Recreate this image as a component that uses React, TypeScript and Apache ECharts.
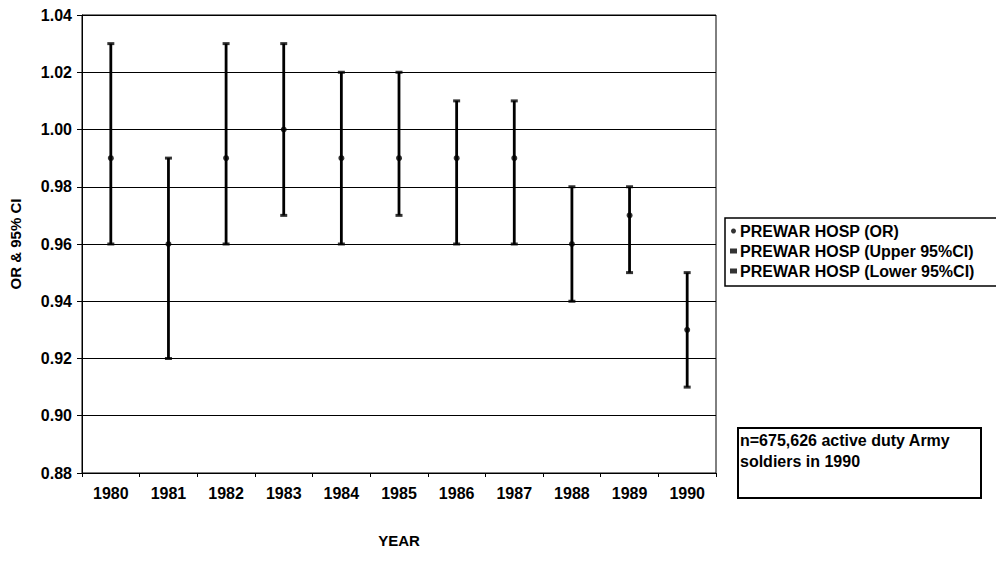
import React, { useEffect, useRef } from "react";
import * as echarts from "echarts";

const years = ["1980", "1981", "1982", "1983", "1984", "1985", "1986", "1987", "1988", "1989", "1990"];
const orValues = [0.99, 0.96, 0.99, 1.0, 0.99, 0.99, 0.99, 0.99, 0.96, 0.97, 0.93];
const upperValues = [1.03, 0.99, 1.03, 1.03, 1.02, 1.02, 1.01, 1.01, 0.98, 0.98, 0.95];
const lowerValues = [0.96, 0.92, 0.96, 0.97, 0.96, 0.97, 0.96, 0.96, 0.94, 0.95, 0.91];

const FONT = "Liberation Sans, Arial, sans-serif";

export default function App() {
  const ref = useRef<HTMLDivElement>(null);
  useEffect(() => {
    if (!ref.current) return;
    const chart = echarts.init(ref.current, null, { renderer: "svg" });
    const errData = years.map((_, i) => [i, lowerValues[i], upperValues[i]]);
    chart.setOption({
      animation: false,
      backgroundColor: "#ffffff",
      textStyle: { fontFamily: FONT },
      grid: { left: 82, right: 280, top: 15, bottom: 89, show: true, borderColor: "#000", borderWidth: 1 },
      legend: {
        orient: "vertical",
        left: 730,
        top: 223,
        itemWidth: 7,
        itemHeight: 5,
        itemGap: 4,
        padding: 0,
        textStyle: { fontFamily: FONT, fontSize: 16, fontWeight: "bold", color: "#000", padding: [0, 0, 0, -2] },
        data: [
          { name: "PREWAR HOSP (OR)", icon: "circle" },
          { name: "PREWAR HOSP (Upper 95%CI)", icon: "rect" },
          { name: "PREWAR HOSP (Lower 95%CI)", icon: "rect" },
        ],
      },
      xAxis: {
        type: "category",
        data: years,
        name: "YEAR",
        nameLocation: "middle",
        nameGap: 60,
        nameTextStyle: { fontFamily: FONT, fontSize: 15, fontWeight: "bold", color: "#000" },
        axisLine: { lineStyle: { color: "#000", width: 1 } },
        axisTick: { show: true, length: 4, lineStyle: { color: "#000" } },
        axisLabel: { fontFamily: FONT, fontSize: 16, fontWeight: "bold", color: "#000", margin: 12 },
        splitLine: { show: false },
      },
      yAxis: {
        type: "value",
        min: 0.88,
        max: 1.04,
        interval: 0.02,
        name: "OR & 95% CI",
        nameLocation: "middle",
        nameGap: 59,
        nameTextStyle: { fontFamily: FONT, fontSize: 15, fontWeight: "bold", color: "#000" },
        axisLine: { show: true, lineStyle: { color: "#000", width: 1 } },
        axisTick: { show: true, length: 5, lineStyle: { color: "#000" } },
        axisLabel: {
          fontFamily: FONT,
          fontSize: 16,
          fontWeight: "bold",
          color: "#000",
          margin: 10,
          formatter: (v: number) => v.toFixed(2),
        },
        splitLine: { show: true, lineStyle: { color: "#000", width: 1 } },
      },
      series: [
        {
          type: "custom",
          name: "err",
          data: errData,
          renderItem: (params: any, api: any) => {
            const i = api.value(0);
            const p1 = api.coord([i, api.value(1)]);
            const p2 = api.coord([i, api.value(2)]);
            return {
              type: "line",
              shape: { x1: p1[0], y1: p1[1], x2: p2[0], y2: p2[1] },
              style: { stroke: "#000", lineWidth: 2.8 },
            };
          },
          z: 2,
        },
        {
          type: "scatter",
          name: "PREWAR HOSP (OR)",
          data: orValues,
          symbol: "circle",
          symbolSize: 6,
          itemStyle: { color: "#000" },
          z: 3,
        },
        {
          type: "scatter",
          name: "PREWAR HOSP (Upper 95%CI)",
          data: upperValues,
          symbol: "rect",
          symbolSize: [7, 3],
          itemStyle: { color: "#000" },
          z: 3,
        },
        {
          type: "scatter",
          name: "PREWAR HOSP (Lower 95%CI)",
          data: lowerValues,
          symbol: "rect",
          symbolSize: [7, 3],
          itemStyle: { color: "#000" },
          z: 3,
        },
      ],
      graphic: [
        {
          type: "rect",
          shape: { x: 725, y: 218, width: 290, height: 68 },
          style: { fill: "none", stroke: "#000", lineWidth: 1.5 },
          silent: true,
        },
        {
          type: "rect",
          shape: { x: 738, y: 428, width: 243, height: 70 },
          style: { fill: "#fff", stroke: "#000", lineWidth: 2 },
          silent: true,
        },
        {
          type: "text",
          x: 740,
          y: 430,
          style: {
            text: "n=675,626 active duty Army\nsoldiers in 1990",
            fontFamily: FONT,
            fontSize: 16,
            fontWeight: "bold",
            fill: "#000",
            lineHeight: 21,
          },
          silent: true,
        },
      ],
    });
    return () => chart.dispose();
  }, []);
  return <div ref={ref} style={{ width: 996, height: 562, position: "absolute", left: 0, top: 0 }} />;
}
